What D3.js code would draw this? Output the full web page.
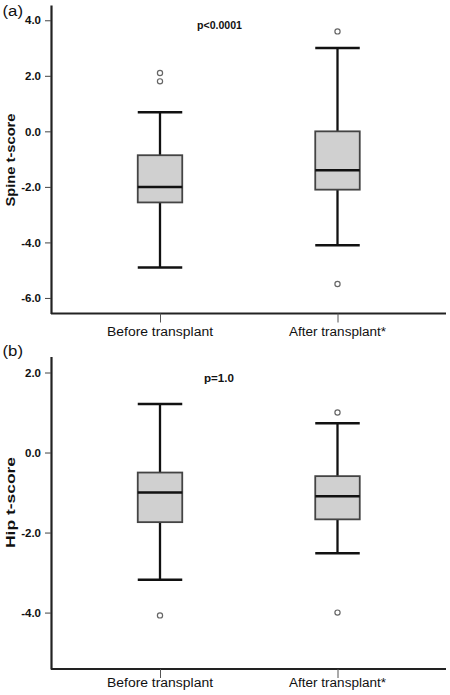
<!DOCTYPE html>
<html><head><meta charset="utf-8">
<script src="https://cdn.jsdelivr.net/npm/d3@7"></script>
<style>body{margin:0;background:#fff}svg{display:block}text{font-family:"Liberation Sans",Arial,sans-serif}</style>
</head><body><svg id="c" width="450" height="695"></svg>
<script>
const categories = ["Before transplant", "After transplant*"];
// Spine t-score boxes: [whiskerLow, q1, median, q3, whiskerHigh]
const spineStats = [[-4.9, -2.56, -2.0, -0.86, 0.69], [-4.1, -2.1, -1.4, 0.0, 3.0]];
const spineOutliers = [[2.1, 1.8], [3.6, -5.5]];
const spineTicks = [4, 2, 0, -2, -4, -6];
// Hip t-score boxes
const hipStats = [[-3.18, -1.74, -1.0, -0.5, 1.21], [-2.52, -1.67, -1.09, -0.59, 0.73]];
const hipOutliers = [[-4.07], [1.0, -4.0]];
const hipTicks = [2, 0, -2, -4];

const svg = d3.select("#c");
const catWidths = [106, 97];

function panel(cfg) {
  const g = svg.append("g");
  const x = d3.scalePoint().domain(categories).range([160, 337.5]);
  const y = d3.scaleLinear().domain(cfg.domain).range([cfg.bottom, cfg.top]);
  const boxW = 44.5;
  // panel letter
  g.append("text").attr("x", 2.5).attr("y", cfg.letterY).attr("font-size", 15.5).attr("fill", "#111")
    .attr("textLength", 20.5).attr("lengthAdjust", "spacingAndGlyphs").text(cfg.letter);
  // axes
  const ya = d3.axisLeft(y).tickValues(cfg.ticks).tickSize(6).tickSizeOuter(0);
  const yg = g.append("g").attr("transform", `translate(${cfg.xl},0)`).call(ya);
  yg.select(".domain").attr("stroke", "#222").attr("stroke-width", 2.2);
  yg.selectAll(".tick line").attr("stroke", "#444");
  yg.selectAll(".tick text").attr("font-size", 11.5).attr("font-weight", "bold").attr("fill", "#111").attr("x", -10)
    .attr("font-family", "'Liberation Sans',Arial,sans-serif")
    .text(d => d3.format(".1f")(d).replace("\u2212", "-"));
  const xa = d3.axisBottom(x).tickSize(9).tickSizeOuter(0).tickFormat(() => "");
  const xg = g.append("g").attr("transform", `translate(0,${cfg.bottom})`).call(xa);
  xg.select(".domain").attr("d", `M${cfg.xl},0H446`).attr("stroke", "#222").attr("stroke-width", 2.2);
  xg.selectAll(".tick line").attr("stroke", "#555");
  categories.forEach((c, i) => {
    g.append("text").attr("x", x(c)).attr("y", cfg.catY).attr("text-anchor", "middle").attr("font-size", 12.5)
      .attr("fill", "#111").attr("textLength", catWidths[i]).attr("lengthAdjust", "spacingAndGlyphs").text(c);
  });
  // y title
  g.append("text").attr("transform", `translate(15,${cfg.titleY}) rotate(-90)`).attr("text-anchor", "middle")
    .attr("font-size", 12).attr("font-weight", "bold").attr("fill", "#111")
    .attr("textLength", cfg.titleLen).attr("lengthAdjust", "spacingAndGlyphs").text(cfg.title);
  // p label
  g.append("text").attr("x", cfg.pX).attr("y", cfg.pY).attr("font-size", 10.5).attr("font-weight", "bold").attr("fill", "#111")
    .attr("textLength", cfg.pLen).attr("lengthAdjust", "spacingAndGlyphs").text(cfg.p);
  // boxes
  cfg.stats.forEach((s, i) => {
    const cx = x(categories[i]);
    const bg = g.append("g");
    bg.append("line").attr("x1", cx).attr("x2", cx).attr("y1", y(s[0])).attr("y2", y(s[1])).attr("stroke", "#111").attr("stroke-width", 2.3);
    bg.append("line").attr("x1", cx).attr("x2", cx).attr("y1", y(s[3])).attr("y2", y(s[4])).attr("stroke", "#111").attr("stroke-width", 2.3);
    [s[0], s[4]].forEach(v => bg.append("line").attr("x1", cx - boxW / 2).attr("x2", cx + boxW / 2).attr("y1", y(v)).attr("y2", y(v)).attr("stroke", "#111").attr("stroke-width", 2.5));
    bg.append("rect").attr("x", cx - boxW / 2).attr("width", boxW).attr("y", y(s[3])).attr("height", y(s[1]) - y(s[3]))
      .attr("fill", "#d0d0d0").attr("stroke", "#444").attr("stroke-width", 1.8);
    bg.append("line").attr("x1", cx - boxW / 2).attr("x2", cx + boxW / 2).attr("y1", y(s[2])).attr("y2", y(s[2])).attr("stroke", "#111").attr("stroke-width", 2.5);
    cfg.outliers[i].forEach(v => bg.append("circle").attr("cx", cx).attr("cy", y(v)).attr("r", 2.6).attr("fill", "#fff").attr("stroke", "#666").attr("stroke-width", 1.2));
  });
}

panel({letter: "(a)", letterY: 16, xl: 51, top: 5, bottom: 313.5, domain: [-6.56, 4.55], ticks: spineTicks, catY: 336,
  title: "Spine t-score", titleY: 160, titleLen: 93, stats: spineStats, outliers: spineOutliers, p: "p<0.0001", pX: 197, pY: 28.5, pLen: 45});
panel({letter: "(b)", letterY: 356, xl: 51, top: 356.5, bottom: 669, domain: [-5.41, 2.4], ticks: hipTicks, catY: 687,
  title: "Hip t-score", titleY: 502.5, titleLen: 91, stats: hipStats, outliers: hipOutliers, p: "p=1.0", pX: 204, pY: 381.5, pLen: 30});
</script></body></html>
